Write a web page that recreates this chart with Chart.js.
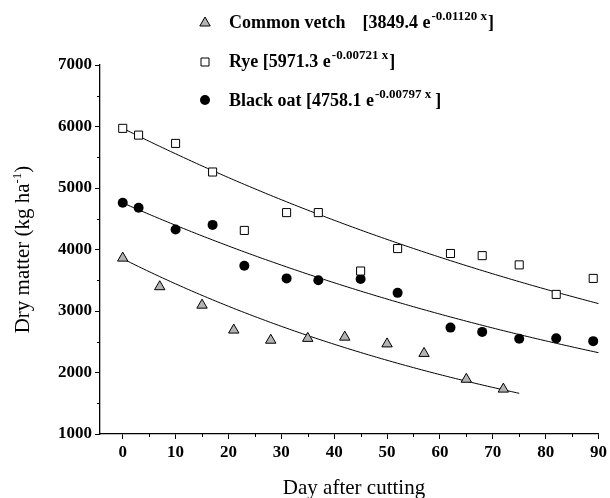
<!DOCTYPE html>
<html>
<head>
<meta charset="utf-8">
<script src="https://cdn.jsdelivr.net/npm/chart.js@4.4.1/dist/chart.umd.min.js"></script>
<style>
  html, body { margin: 0; padding: 0; background: #fff; }
  #wrap { width: 610px; height: 498px; }
</style>
</head>
<body>
<div id="wrap"><canvas id="grafico"></canvas></div>
<script>
// Valores
const vetchDays = [0, 7, 15, 21, 28, 35, 42, 50, 57, 65, 72];
const vetchDM = [3860, 3395, 3095, 2690, 2525, 2555, 2575, 2465, 2310, 1890, 1730];

const ryeDays = [0, 3, 10, 17, 23, 31, 37, 45, 52, 62, 68, 75, 82, 89];
const ryeDM = [5970, 5860, 5725, 5260, 4310, 4600, 4600, 3650, 4015, 3935, 3900, 3750, 3270, 3530];

const oatDays = [0, 3, 10, 17, 23, 31, 37, 45, 52, 62, 68, 75, 82, 89];
const oatDM = [4760, 4680, 4325, 4400, 3735, 3530, 3500, 3520, 3295, 2730, 2660, 2550, 2555, 2510];

// Ajustes exponenciais (a * e^(k x)) da legenda
const fitNames = ['Common vetch', 'Rye', 'Black oat'];
const fitA = [3849.4, 5971.3, 4758.1];
const fitK = [-0.01120, -0.00721, -0.00797];
const fitEnd = [75, 90, 90];

const xTicks = [0, 10, 20, 30, 40, 50, 60, 70, 80, 90];
const xMinor = [5, 15, 25, 35, 45, 55, 65, 75, 85];
const yTicks = [1000, 2000, 3000, 4000, 5000, 6000, 7000];
const yMinor = [1500, 2500, 3500, 4500, 5500, 6500];

const SERIF = '"Liberation Serif", "Times New Roman", serif';
const GRAY = '#b3b3b3';

function pares(xs, ys) {
    return xs.map((x, i) => ({ x: x, y: ys[i] }));
}

// Curvas ajustadas, desenhadas pelas escalas
const curvasPlugin = {
    id: 'curvas',
    beforeDatasetsDraw(chart) {
        const { ctx, scales: { x, y } } = chart;
        ctx.save();
        ctx.strokeStyle = '#000';
        ctx.lineWidth = 1;
        fitA.forEach((a, i) => {
            ctx.beginPath();
            for (let d = 0; d <= fitEnd[i]; d += 0.5) {
                const px = x.getPixelForValue(d);
                const py = y.getPixelForValue(a * Math.exp(fitK[i] * d));
                if (d === 0) ctx.moveTo(px, py); else ctx.lineTo(px, py);
            }
            ctx.stroke();
        });
        ctx.restore();
    }
};

function marcador(ctx, tipo, cx, cy) {
    ctx.save();
    ctx.strokeStyle = '#000';
    ctx.lineWidth = 1;
    ctx.beginPath();
    if (tipo === 'triangle') {
        const r = 6;
        ctx.moveTo(cx, cy - r);
        ctx.lineTo(cx + r * 0.866, cy + r * 0.5);
        ctx.lineTo(cx - r * 0.866, cy + r * 0.5);
        ctx.closePath();
        ctx.fillStyle = GRAY;
        ctx.fill();
        ctx.stroke();
    } else if (tipo === 'rect') {
        ctx.rect(cx - 4, cy - 4, 8, 8);
        ctx.fillStyle = '#fff';
        ctx.fill();
        ctx.stroke();
    } else {
        ctx.arc(cx, cy, 5, 0, Math.PI * 2);
        ctx.fillStyle = '#000';
        ctx.fill();
    }
    ctx.restore();
}

// Legenda, títulos dos eixos e ticks menores
const extrasPlugin = {
    id: 'extras',
    afterDraw(chart) {
        const { ctx, scales: { x, y } } = chart;
        ctx.save();

        // ticks menores
        ctx.strokeStyle = '#000';
        ctx.lineWidth = 1;
        ctx.beginPath();
        xMinor.forEach(v => {
            const px = Math.round(x.getPixelForValue(v)) + 0.5;
            ctx.moveTo(px, y.bottom);
            ctx.lineTo(px, y.bottom + 3);
        });
        yMinor.forEach(v => {
            const py = Math.round(y.getPixelForValue(v)) + 0.5;
            ctx.moveTo(x.left, py);
            ctx.lineTo(x.left - 3, py);
        });
        ctx.stroke();

        // legenda
        const tipos = ['triangle', 'rect', 'circle'];
        const linhas = [28, 67, 106];
        const markY = [23, 62, 100];
        ctx.fillStyle = '#000';
        ctx.textBaseline = 'alphabetic';
        ctx.textAlign = 'left';
        fitNames.forEach((nome, i) => {
            marcador(ctx, tipos[i], 205, markY[i]);
            const base = linhas[i];
            let cx = 229;
            ctx.font = 'bold 18px ' + SERIF;
            ctx.fillText(nome, cx, base);
            cx += ctx.measureText(nome).width;
            cx += (i === 0) ? 17 : 4.5;
            const pre = '[' + fitA[i].toFixed(1) + ' e';
            ctx.fillText(pre, cx, base);
            cx += ctx.measureText(pre).width + 1;
            ctx.font = 'bold 13px ' + SERIF;
            const sup = fitK[i].toFixed(5) + ' x';
            ctx.fillText(sup, cx, base - 8);
            cx += ctx.measureText(sup).width + (i === 2 ? 4 : 1);
            ctx.font = 'bold 18px ' + SERIF;
            ctx.fillText(']', cx, base);
        });

        // título do eixo x
        ctx.font = '21px ' + SERIF;
        ctx.textAlign = 'center';
        ctx.fillText('Day after cutting', 354, 494);

        // título do eixo y, com expoente
        ctx.translate(29, (y.top + y.bottom) / 2);
        ctx.rotate(-Math.PI / 2);
        ctx.textAlign = 'left';
        const t1 = 'Dry matter (kg ha';
        ctx.font = '13px ' + SERIF;
        const s1 = '-1';
        const ws = ctx.measureText(s1).width;
        ctx.font = '21px ' + SERIF;
        const w1 = ctx.measureText(t1).width;
        const w2 = ctx.measureText(')').width;
        let sx = -(w1 + ws + w2) / 2;
        ctx.fillText(t1, sx, 0);
        sx += w1;
        ctx.font = '13px ' + SERIF;
        ctx.fillText(s1, sx, -8);
        sx += ws;
        ctx.font = '21px ' + SERIF;
        ctx.fillText(')', sx, 0);

        ctx.restore();
    }
};

const ctxGrafico = document.getElementById('grafico').getContext('2d');
const grafico = new Chart(ctxGrafico, {
    type: 'scatter',
    data: {
        datasets: [
            {
                label: 'Common vetch',
                data: pares(vetchDays, vetchDM),
                pointStyle: 'triangle',
                pointRadius: 6,
                backgroundColor: GRAY,
                borderColor: '#000',
                borderWidth: 1
            },
            {
                label: 'Rye',
                data: pares(ryeDays, ryeDM),
                pointStyle: 'rect',
                pointRadius: 5.7,
                backgroundColor: '#fff',
                borderColor: '#000',
                borderWidth: 1
            },
            {
                label: 'Black oat',
                data: pares(oatDays, oatDM),
                pointStyle: 'circle',
                pointRadius: 5,
                backgroundColor: '#000',
                borderColor: '#000',
                borderWidth: 0
            }
        ]
    },
    options: {
        responsive: true,
        maintainAspectRatio: false,
        animation: false,
        layout: { padding: { top: 65, right: 11, left: 0, bottom: 0 } },
        plugins: {
            legend: { display: false },
            tooltip: { enabled: false }
        },
        scales: {
            x: {
                type: 'linear',
                min: -4.3,
                max: 90,
                afterBuildTicks: scale => { scale.ticks = xTicks.map(v => ({ value: v })); },
                afterFit: scale => { scale.height = 64; },
                border: { display: true, color: '#000', width: 1.3 },
                grid: { drawOnChartArea: false, drawTicks: true, tickLength: 5, tickColor: '#000', tickWidth: 1 },
                ticks: {
                    color: '#000',
                    padding: 3,
                    maxRotation: 0,
                    callback: value => String(value),
                    font: { family: SERIF, size: 17, weight: 'bold' }
                }
            },
            y: {
                type: 'linear',
                min: 1000,
                max: 7000,
                afterBuildTicks: scale => { scale.ticks = yTicks.map(v => ({ value: v })); },
                afterFit: scale => { scale.width = 100; },
                border: { display: true, color: '#000', width: 1.3 },
                grid: { drawOnChartArea: false, drawTicks: true, tickLength: 5, tickColor: '#000', tickWidth: 1 },
                ticks: {
                    color: '#000',
                    padding: 3,
                    callback: value => String(value),
                    font: { family: SERIF, size: 17, weight: 'bold' }
                }
            }
        }
    },
    plugins: [curvasPlugin, extrasPlugin]
});
</script>
</body>
</html>
